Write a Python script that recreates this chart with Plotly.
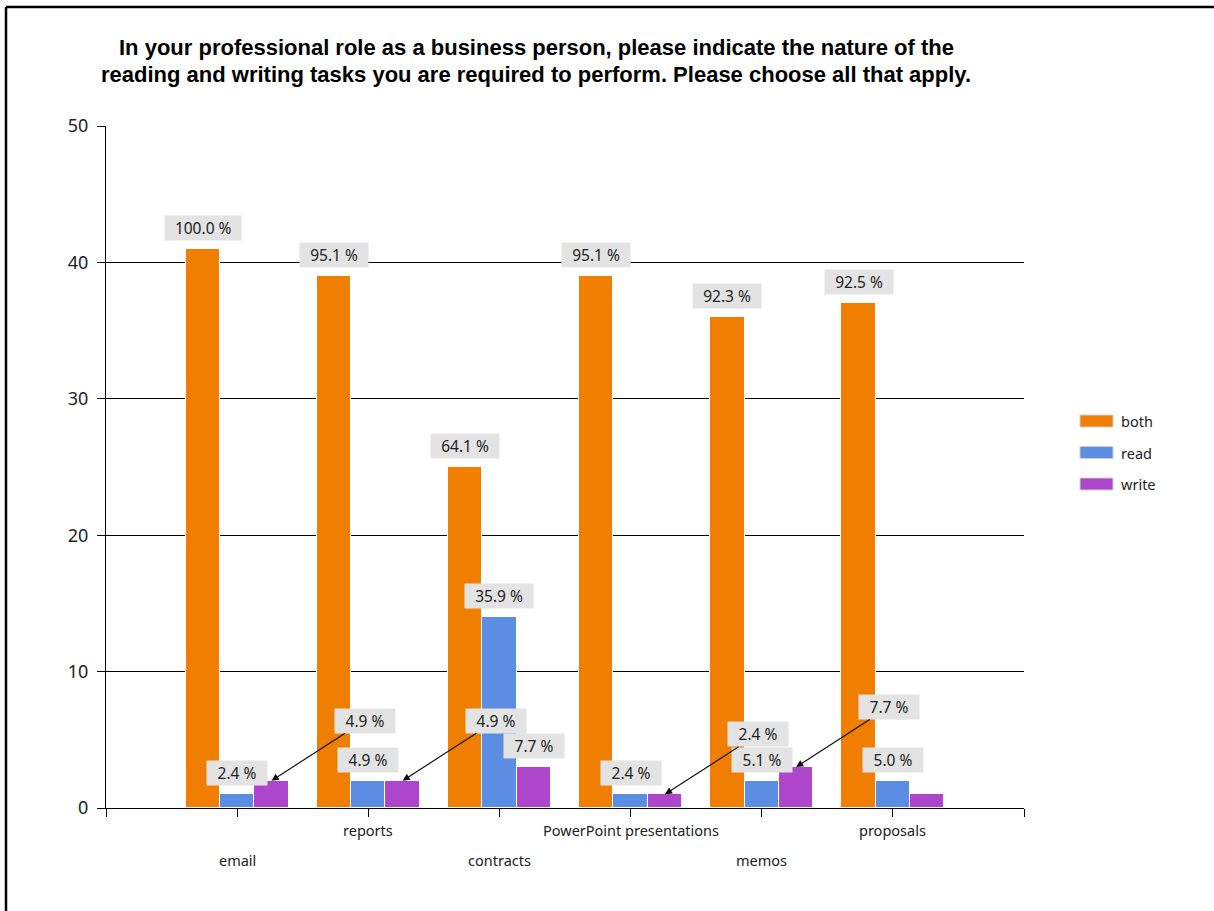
import plotly.graph_objects as go

# Survey counts per document type and task nature
categories = ["email", "reports", "contracts", "PowerPoint presentations", "memos", "proposals"]
series_names = ["both", "read", "write"]
both_counts = [41, 39, 25, 39, 36, 37]
read_counts = [1, 2, 14, 1, 2, 2]
write_counts = [2, 2, 3, 1, 3, 1]

# Percentage labels shown above the bars (None = no label drawn)
both_labels = ["100.0 %", "95.1 %", "64.1 %", "95.1 %", "92.3 %", "92.5 %"]
read_labels = ["2.4 %", "4.9 %", "35.9 %", "2.4 %", "5.1 %", "5.0 %"]
write_labels = ["4.9 %", "4.9 %", "7.7 %", "2.4 %", "7.7 %", None]
# write labels that are moved aside and connected with an arrow
write_label_arrow = [True, True, False, True, True, False]

y_ticks = [0, 10, 20, 30, 40, 50]

colors = ["#F07E00", "#5B8DE3", "#AE46CC"]
label_font = "Noto Sans, Open Sans, sans-serif"

# Plot area in pixels
W, H = 1214, 911
L, R, T, B = 106, 1024, 126, 808


def px_x(px):
    return (px - L) / (R - L)


def px_y(py):
    return (B - py) / (B - T)


bar_w = 0.262
offsets = [-bar_w, 0.0, bar_w]
values = [both_counts, read_counts, write_counts]

fig = go.Figure()
for k, name in enumerate(series_names):
    fig.add_trace(go.Bar(
        x=[i + offsets[k] for i in range(len(categories))],
        y=values[k],
        width=bar_w,
        name=name,
        marker=dict(color=colors[k], line=dict(color="white", width=1)),
        showlegend=False,
        hoverinfo="skip",
    ))


def label_width(text):
    return 8.2 * len(text) + 13


annotations = []
all_labels = [both_labels, read_labels, write_labels]
for k in range(3):
    for i, text in enumerate(all_labels[k]):
        if text is None:
            continue
        x = i + offsets[k]
        y = values[k][i]
        common = dict(
            x=x, y=y, xref="x", yref="y", text=text,
            font=dict(family=label_font, size=15.5, color="#222"),
            bgcolor="#E3E3E3", borderpad=3, width=label_width(text), height=18,
        )
        if k == 2 and write_label_arrow[i]:
            annotations.append(dict(
                common, showarrow=True, ax=93, ay=-60,
                arrowhead=2, arrowsize=1.2, arrowwidth=1.2, arrowcolor="#111",
                standoff=0,
            ))
        else:
            annotations.append(dict(
                common, showarrow=False, yanchor="bottom", yshift=8,
            ))

# Title, two lines
title_lines = [
    "In your professional role as a business person, please indicate the nature of the",
    "reading and writing tasks you are required to perform. Please choose all that apply.",
]
for line, py in zip(title_lines, [47, 74]):
    annotations.append(dict(
        x=px_x(536), y=px_y(py), xref="paper", yref="paper",
        text="<b>%s</b>" % line, showarrow=False,
        xanchor="center", yanchor="middle",
        font=dict(family="Liberation Sans, Arial, sans-serif", size=22, color="#000"),
    ))

# Category labels below the axis, alternating between two rows
for i, c in enumerate(categories):
    annotations.append(dict(
        x=i, y=px_y(860 if i % 2 == 0 else 830), xref="x", yref="paper",
        text=c, showarrow=False, xanchor="center", yanchor="middle",
        font=dict(family=label_font, size=14.5, color="#222"),
    ))

# Legend drawn as wide swatches with labels
shapes = []
for k, name in enumerate(series_names):
    cy = 421 + k * 31.5
    shapes.append(dict(
        type="rect", xref="paper", yref="paper",
        x0=px_x(1080), x1=px_x(1113), y0=px_y(cy - 6), y1=px_y(cy + 6),
        fillcolor=colors[k], line=dict(color="#d0d0d0", width=1),
    ))
    annotations.append(dict(
        x=px_x(1119), y=px_y(cy), xref="paper", yref="paper",
        text=name, showarrow=False, xanchor="left", yanchor="middle",
        font=dict(family=label_font, size=14.5, color="#222"),
    ))

# Frame lines along the left and top edges of the page
shapes.append(dict(type="line", xref="paper", yref="paper",
                   x0=px_x(6), x1=px_x(1214), y0=px_y(7), y1=px_y(7),
                   line=dict(color="#000", width=2.5)))
shapes.append(dict(type="line", xref="paper", yref="paper",
                   x0=px_x(6), x1=px_x(6), y0=px_y(7), y1=px_y(911),
                   line=dict(color="#000", width=2.5)))

tick_vals = list(range(-1, len(categories) + 1))

fig.update_layout(
    width=W, height=H,
    margin=dict(l=L, r=W - R, t=T, b=H - B),
    paper_bgcolor="white", plot_bgcolor="white",
    bargap=0, barmode="overlay",
    annotations=annotations, shapes=shapes,
    showlegend=False,
    xaxis=dict(
        range=[-1, len(categories)], tickmode="array",
        tickvals=tick_vals, ticktext=[""] * len(tick_vals),
        showgrid=False, zeroline=False,
        showline=True, linecolor="#000", linewidth=1,
        ticks="outside", ticklen=8, tickcolor="#000",
    ),
    yaxis=dict(
        range=[0, 50], tickmode="array", tickvals=y_ticks,
        showgrid=True, gridcolor="#000", gridwidth=1, zeroline=False,
        showline=True, linecolor="#000", linewidth=1,
        ticks="outside", ticklen=8, tickcolor="#000",
        ticklabelstandoff=5,
        tickfont=dict(family=label_font, size=18, color="#222"),
    ),
)

fig.write_html("out.html")
